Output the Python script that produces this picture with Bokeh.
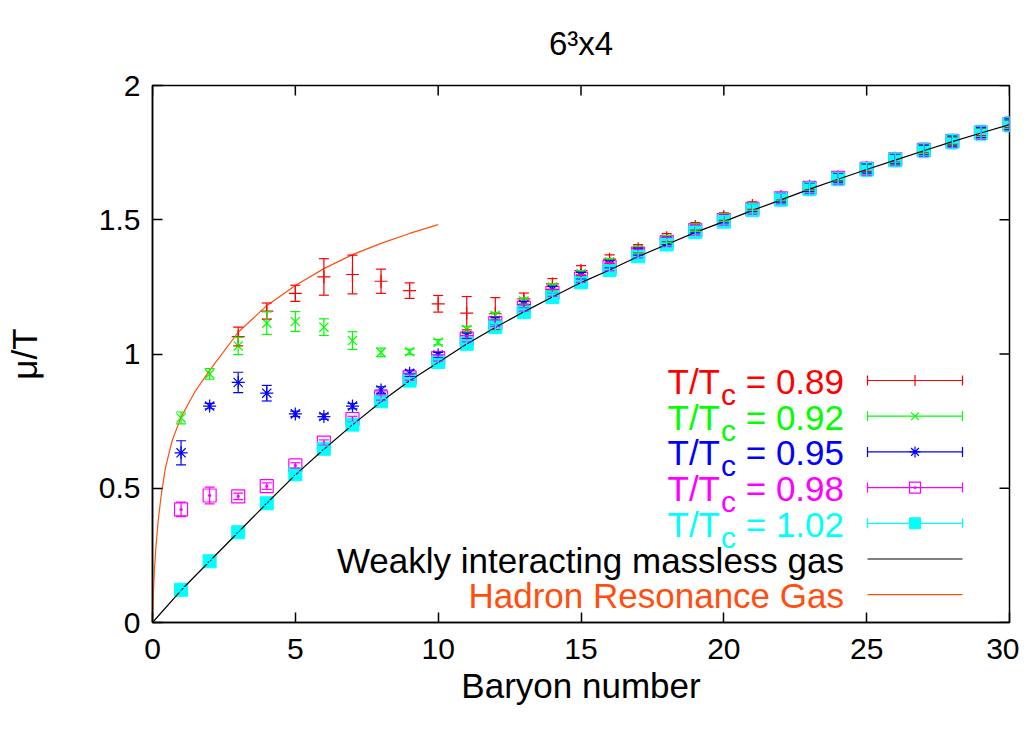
from bokeh.plotting import figure
from bokeh.models import Range1d, Whisker, TeeHead, ColumnDataSource, Label, FixedTicker
from bokeh.embed import file_html
from bokeh.resources import INLINE

# ---------------- data ----------------
baryon = list(range(1, 31))
baryon_red = list(range(3, 31))

mu_089 = [1.065, 1.160, 1.226, 1.287, 1.296, 1.271, 1.236, 1.187, 1.152, 1.150,
          1.205, 1.261, 1.311, 1.353, 1.392, 1.433, 1.475, 1.512, 1.553, 1.587,
          1.625, 1.660, 1.694, 1.729, 1.763, 1.795, 1.827, 1.857]
err_089 = [0.035, 0.030, 0.030, 0.068, 0.072, 0.045, 0.029, 0.031, 0.062, 0.060,
           0.022, 0.020, 0.018, 0.016, 0.015, 0.015, 0.014, 0.014, 0.014, 0.014,
           0.014, 0.014, 0.014, 0.014, 0.014, 0.014, 0.014, 0.014]

mu_092 = [0.762, 0.926, 1.030, 1.115, 1.121, 1.100, 1.050, 1.006, 1.008, 1.044,
          1.091, 1.143, 1.197, 1.249, 1.299, 1.343, 1.389, 1.428, 1.471, 1.508,
          1.549, 1.585, 1.623, 1.658, 1.692, 1.727, 1.761, 1.794, 1.826, 1.856]
err_092 = [0.022, 0.020, 0.032, 0.042, 0.037, 0.031, 0.033, 0.016, 0.010, 0.010,
           0.012, 0.012, 0.012, 0.012, 0.012, 0.013, 0.013, 0.013, 0.014, 0.014,
           0.014, 0.015, 0.015, 0.015, 0.016, 0.016, 0.016, 0.017, 0.017, 0.017]

mu_095 = [0.632, 0.806, 0.894, 0.854, 0.777, 0.767, 0.806, 0.866, 0.928, 0.996,
          1.068, 1.125, 1.184, 1.240, 1.292, 1.334, 1.381, 1.421, 1.465, 1.503,
          1.545, 1.582, 1.621, 1.657, 1.691, 1.726, 1.760, 1.793, 1.825, 1.856]
err_095 = [0.045, 0.010, 0.038, 0.029, 0.010, 0.010, 0.010, 0.012, 0.012, 0.010,
           0.010, 0.012, 0.012, 0.012, 0.012, 0.013, 0.013, 0.014, 0.014, 0.015,
           0.015, 0.016, 0.016, 0.017, 0.017, 0.018, 0.018, 0.019, 0.019, 0.020]

mu_098 = [0.421, 0.473, 0.470, 0.508, 0.585, 0.670, 0.758, 0.838, 0.913, 0.985,
          1.057, 1.115, 1.173, 1.228, 1.281, 1.325, 1.374, 1.417, 1.461, 1.499,
          1.541, 1.580, 1.619, 1.656, 1.690, 1.725, 1.760, 1.793, 1.825, 1.856]
err_098 = [0.027, 0.031, 0.012, 0.012, 0.010, 0.010, 0.010, 0.010, 0.011, 0.011,
           0.012, 0.012, 0.013, 0.013, 0.014, 0.015, 0.016, 0.017, 0.018, 0.019,
           0.020, 0.021, 0.022, 0.023, 0.024, 0.024, 0.025, 0.025, 0.026, 0.026]

mu_102 = [0.122, 0.228, 0.336, 0.444, 0.552, 0.647, 0.737, 0.824, 0.901, 0.970,
          1.038, 1.100, 1.156, 1.212, 1.267, 1.313, 1.364, 1.408, 1.454, 1.493,
          1.536, 1.575, 1.615, 1.652, 1.687, 1.723, 1.758, 1.791, 1.824, 1.855]
err_102 = [0.008, 0.008, 0.008, 0.009, 0.009, 0.010, 0.010, 0.011, 0.011, 0.012,
           0.013, 0.014, 0.015, 0.016, 0.017, 0.018, 0.019, 0.020, 0.021, 0.022,
           0.023, 0.024, 0.025, 0.025, 0.026, 0.026, 0.027, 0.027, 0.028, 0.028]

free_b = list(range(0, 31))
free_mu = [0.0, 0.120, 0.228, 0.336, 0.444, 0.550, 0.645, 0.736, 0.822, 0.900,
           0.968, 1.037, 1.099, 1.157, 1.212, 1.266, 1.313, 1.363, 1.408, 1.453,
           1.493, 1.535, 1.574, 1.614, 1.651, 1.687, 1.722, 1.757, 1.791, 1.823, 1.854]

hrg_b = [0.0, 0.03, 0.07, 0.12, 0.2, 0.3, 0.45, 0.69, 1.0, 1.5, 2.0, 3.0, 4.0, 5.0, 6.0, 7.0, 8.0, 9.0, 10.0]
hrg_mu = [0.0, 0.110, 0.200, 0.280, 0.380, 0.470, 0.575, 0.678, 0.765, 0.862, 0.939, 1.081, 1.180,
          1.255, 1.318, 1.370, 1.412, 1.449, 1.482]

x_ticks = [0, 5, 10, 15, 20, 25, 30]
y_ticks = [0, 0.5, 1, 1.5, 2]
y_tick_labels = ["0", "0.5", "1", "1.5", "2"]

title_text = "6\u00b3x4"
x_label = "Baryon number"
y_label = "\u03bc/T"
series_labels = ["0.89", "0.92", "0.95", "0.98", "1.02"]
colors = ["#ff0000", "#00ff00", "#0000ff", "#ff00ff", "#00ffff"]
markers = ["cross", "x", "asterisk", "square_dot", "square"]
line_labels = ["Weakly interacting massless gas", "Hadron Resonance Gas"]
line_colors = ["#000000", "#ff4f10"]

# ---------------- figure ----------------
FONT = "Liberation Sans"
FW, FH = 857, 537
FL, FT = 152, 85   # frame left/top on the page
p = figure(frame_width=FW, frame_height=FH, x_range=Range1d(0, 30), y_range=Range1d(0, 2),
           output_backend="svg", toolbar_location=None,
           min_border_left=FL, min_border_right=10, min_border_top=FT, min_border_bottom=100,
           background_fill_color="white", border_fill_color="white")
p.grid.visible = False
p.outline_line_color = "black"
p.outline_line_width = 1.5

p.title.text = title_text
p.title.align = "center"
p.title.vertical_align = "top"
p.title.text_font = FONT
p.title.text_font_size = "33px"
p.title.text_font_style = "normal"
p.title.text_color = "black"
p.title.standoff = 44

for ax in (p.xaxis[0], p.yaxis[0]):
    ax.major_tick_in = 10
    ax.major_tick_out = 0
    ax.minor_tick_line_color = None
    ax.axis_line_width = 1.5
    ax.major_tick_line_width = 1.5
    ax.major_label_text_font = FONT
    ax.major_label_text_font_size = "30px"
    ax.major_label_text_color = "black"
    ax.axis_label_text_font = FONT
    ax.axis_label_text_font_size = "35px"
    ax.axis_label_text_font_style = "normal"
    ax.axis_label_text_color = "black"

p.xaxis.ticker = FixedTicker(ticks=x_ticks)
p.yaxis.ticker = FixedTicker(ticks=y_ticks)
p.yaxis.major_label_overrides = {t: l for t, l in zip(y_ticks, y_tick_labels)}
p.xaxis.axis_label = x_label
p.yaxis.axis_label = y_label
p.xaxis.major_label_standoff = 16
p.xaxis.axis_label_standoff = 4
p.yaxis.major_label_standoff = 12
p.yaxis.axis_label_standoff = 52

SX = FW / 30.0
SY = FH / 2.0
def dx(px):  # page pixel -> data x
    return (px - FL) / SX
def dy(py):  # page pixel -> data y
    return (FT + FH - py) / SY

# mirror ticks on top and right border (inward, 10 px)
p.segment(x0=x_ticks, y0=[2.0] * len(x_ticks), x1=x_ticks, y1=[2.0 - 10 / SY] * len(x_ticks),
          line_color="black", line_width=1.5)
p.segment(x0=[30.0] * len(y_ticks), y0=y_ticks, x1=[30.0 - 10 / SX] * len(y_ticks), y1=y_ticks,
          line_color="black", line_width=1.5)

# ---------------- data series ----------------
all_x = [baryon_red, baryon, baryon, baryon, baryon]
all_y = [mu_089, mu_092, mu_095, mu_098, mu_102]
all_e = [err_089, err_092, err_095, err_098, err_102]
for xs, ys, es, c, m in zip(all_x, all_y, all_e, colors, markers):
    src = ColumnDataSource(dict(x=xs, y=ys,
                                lo=[a - b for a, b in zip(ys, es)],
                                hi=[a + b for a, b in zip(ys, es)]))
    w = Whisker(source=src, base="x", upper="hi", lower="lo", dimension="height",
                line_color=c, line_width=1.2, level="glyph",
                upper_head=TeeHead(size=10, line_color=c, line_width=1.2),
                lower_head=TeeHead(size=10, line_color=c, line_width=1.2))
    p.add_layout(w)
    if m == "square":
        p.scatter("x", "y", source=src, marker=m, size=13, fill_color=c, line_color=c)
    else:
        p.scatter("x", "y", source=src, marker=m, size=13, fill_color=None, line_color=c, line_width=1.2)

p.line(free_b, free_mu, line_color=line_colors[0], line_width=1.2)
p.line(hrg_b, hrg_mu, line_color=line_colors[1], line_width=1.2)

# ---------------- manual key (label left of sample) ----------------
row0, rowstep = 380.0, 35.7
text_right, samp_l, samp_r = 843.5, 867.0, 962.0
for i, (lab, c, m) in enumerate(zip(series_labels, colors, markers)):
    ly = row0 + rowstep * i
    base = ly + 1
    p.add_layout(Label(x=dx(text_right), y=dy(base), text="= " + lab, text_align="right",
                       text_baseline="alphabetic", text_font=FONT, text_font_size="35px", text_color=c))
    p.add_layout(Label(x=dx(text_right - 108), y=dy(base + 13), text="c", text_align="right",
                       text_baseline="alphabetic", text_font=FONT, text_font_size="30px", text_color=c))
    p.add_layout(Label(x=dx(text_right - 124), y=dy(base), text="T/T", text_align="right",
                       text_baseline="alphabetic", text_font=FONT, text_font_size="35px", text_color=c))
    p.segment(x0=[dx(samp_l)], y0=[dy(ly)], x1=[dx(samp_r)], y1=[dy(ly)], line_color=c, line_width=1.2)
    p.segment(x0=[dx(samp_l), dx(samp_r)], y0=[dy(ly - 5)] * 2, x1=[dx(samp_l), dx(samp_r)],
              y1=[dy(ly + 5)] * 2, line_color=c, line_width=1.2)
    if m == "square":
        p.scatter([dx((samp_l + samp_r) / 2)], [dy(ly)], marker=m, size=11, fill_color=c, line_color=c)
    else:
        p.scatter([dx((samp_l + samp_r) / 2)], [dy(ly)], marker=m, size=11, fill_color=None,
                  line_color=c, line_width=1.2)

for j, (lab, c) in enumerate(zip(line_labels, line_colors)):
    ly = row0 + rowstep * (5 + j)
    p.add_layout(Label(x=dx(text_right), y=dy(ly + 1), text=lab, text_align="right",
                       text_baseline="alphabetic", text_font=FONT, text_font_size="35px", text_color=c))
    p.segment(x0=[dx(samp_l)], y0=[dy(ly)], x1=[dx(samp_r)], y1=[dy(ly)], line_color=c, line_width=1.2)

open("out.html", "w").write(file_html(p, INLINE))
